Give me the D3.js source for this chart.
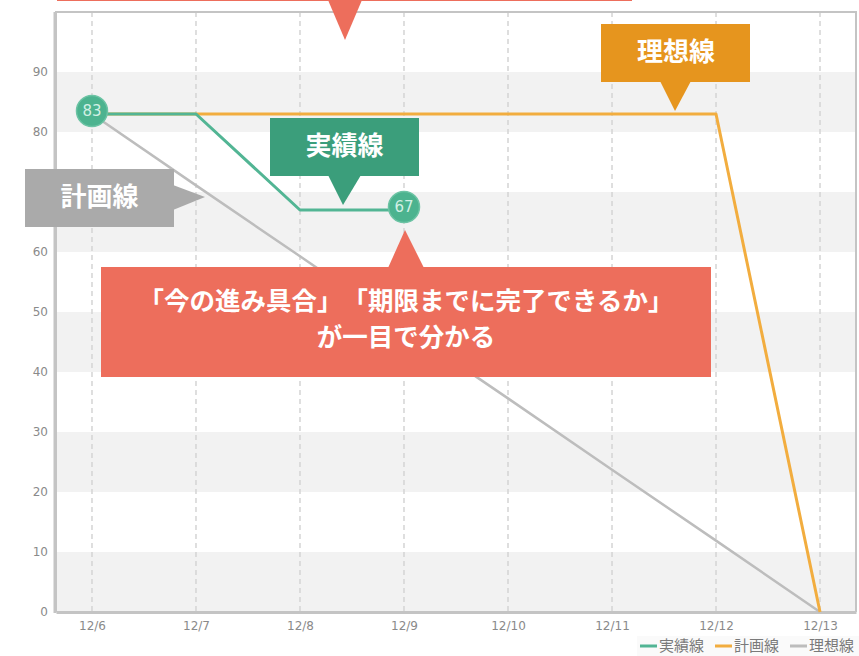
<!DOCTYPE html>
<html><head><meta charset="utf-8">
<script src="https://cdn.jsdelivr.net/npm/d3@7/dist/d3.min.js"></script>
<style>body{margin:0;background:#fff}svg{display:block}text{text-spacing-trim:space-all}</style>
</head><body>
<svg id="c" width="859" height="656"></svg>
<script>
// ---- data ----
const dates = ["12/6","12/7","12/8","12/9","12/10","12/11","12/12","12/13"];
const actual = [83,83,67,67,null,null,null,null];      // 実績線
const plan   = [83,83,83,83,83,83,83,0];               // 計画線
const ideal  = [83,71.1,59.3,47.4,35.6,23.7,11.9,0];   // 理想線
const yTicks = [0,10,20,30,40,50,60,70,80,90];
const seriesNames = ["実績線","計画線","理想線"];
const calloutTexts = {
  ideal: "理想線", actual: "実績線", plan: "計画線",
  main: ["「今の進み具合」「期限までに完了できるか」","が一目で分かる"]
};

// ---- layout ----
const svg = d3.select("#c");
const L = 56, R = 856, T = 12, B = 612;
const x = d3.scalePoint().domain(dates).range([L, R]).padding(0.346);
const y = d3.scaleLinear().domain([0,100]).range([B, T]);
const C = {teal:"#52b594", tealDark:"#3b9e7b", orange:"#f2ad3f", orangeDark:"#e6951e",
           gray:"#bdbdbd", grayBox:"#aaaaaa", red:"#ed6e5c"};
const cjk = "'Noto Sans CJK JP','Noto Sans',sans-serif";

// bands
const bands = d3.range(0,100,20);
svg.append("g").selectAll("rect").data(bands).join("rect")
  .attr("x", L).attr("width", R-L)
  .attr("y", d => y(d+10)).attr("height", d => y(d)-y(d+10))
  .attr("fill", "#f2f2f2");

// vertical dashed grid
svg.append("g").selectAll("line").data(dates).join("line")
  .attr("x1", d => x(d)).attr("x2", d => x(d)).attr("y1", T).attr("y2", B)
  .attr("stroke", "#d4d4d4").attr("stroke-width", 1.5).attr("stroke-dasharray", "5,4");

// frame
svg.append("path").attr("d", `M${L},${B}V${T}H${R}V${B}`).attr("fill","none")
  .attr("stroke","#c4c4c4").attr("stroke-width",2);
svg.append("line").attr("x1",L-1).attr("x2",L-1).attr("y1",T).attr("y2",B+1)
  .attr("stroke","#c4c4c4").attr("stroke-width",3);

// axes
const yAxis = svg.append("g").attr("transform",`translate(${L-8},0)`)
  .call(d3.axisLeft(y).tickValues(yTicks).tickSize(0).tickPadding(0));
yAxis.select(".domain").remove();
yAxis.selectAll("text").attr("fill","#8a8a8a").style("font-family","'DejaVu Sans',sans-serif").style("font-size","12px");
const xAxis = svg.append("g").attr("transform",`translate(0,${B})`)
  .call(d3.axisBottom(x).tickSize(0).tickPadding(9));
xAxis.select(".domain").attr("stroke","#c4c4c4").attr("stroke-width",3);
xAxis.selectAll("text").attr("fill","#8a8a8a").style("font-family","'DejaVu Sans',sans-serif").style("font-size","12px");

// lines
const line = d3.line().defined(d => d.v != null).x(d => x(d.k)).y(d => y(d.v));
const toPts = arr => arr.map((v,i)=>({k:dates[i], v}));
svg.append("path").datum(toPts(ideal)).attr("d", line).attr("fill","none")
  .attr("stroke", C.gray).attr("stroke-width", 2.5);
svg.append("path").datum(toPts(plan)).attr("d", line).attr("fill","none")
  .attr("stroke", C.orange).attr("stroke-width", 3).attr("stroke-linejoin","round");
svg.append("path").datum(toPts(actual)).attr("d", line).attr("fill","none")
  .attr("stroke", C.teal).attr("stroke-width", 3).attr("stroke-linejoin","round");

// markers at first and last actual values
const actPts = toPts(actual).filter(d => d.v != null);
const marks = [actPts[0], actPts[actPts.length-1]];
const mg = svg.append("g").selectAll("g").data(marks).join("g")
  .attr("transform", d => `translate(${x(d.k)},${y(d.v)-3})`);
mg.append("circle").attr("r", 15.5).attr("fill", "#4cb38f").attr("stroke","#6cc3a4").attr("stroke-width",1.5);
mg.append("text").text(d => d.v).attr("text-anchor","middle").attr("dy","0.36em")
  .attr("fill","#d2f0e5").style("font-family","'DejaVu Sans',sans-serif").style("font-size","15px");

// callouts
function box(x0,y0,w,h,fill){ svg.append("rect").attr("x",x0).attr("y",y0).attr("width",w).attr("height",h).attr("fill",fill); }
function tri(pts,fill){ svg.append("path").attr("d","M"+pts.map(p=>p.join(",")).join("L")+"Z").attr("fill",fill); }
function label(t,cx,cy,size){ svg.append("text").text(t).attr("x",cx).attr("y",cy).attr("text-anchor","middle")
  .attr("dy","0.36em").attr("fill","#fff").style("font-family",cjk).style("font-weight","bold").style("font-size",size+"px"); }

// top red (mostly off-canvas)
box(57,-60,575,61,C.red);
tri([[328,0],[362,0],[345,40]],C.red);

// 理想線 (orange) callout -> orange line
const oAx = 675, oAy = y(83) - 3;
box(601,24,149,58,C.orangeDark);
tri([[660,81],[691,81],[oAx,oAy]],C.orangeDark);
label(calloutTexts.ideal,676,52,26);

// 実績線 (teal) callout
const tAy = y(67) - 5;
box(270,118,149,58,C.tealDark);
tri([[328,175],[361,175],[343,tAy]],C.tealDark);
label(calloutTexts.actual,344.5,146,26);

// 計画線 (gray) callout
box(25,169,149,58,C.grayBox);
tri([[173,185],[173,210],[205,197]],C.grayBox);
label(calloutTexts.plan,99.5,197,26);

// main red callout
const mAx = x("12/9");
box(101,267,610,110,C.red);
tri([[388,268],[424,268],[mAx+1,230]],C.red);
label(calloutTexts.main[0],406,301,25.5);
label(calloutTexts.main[1],406,337,25.5);

// legend
const lg = svg.append("g");
lg.append("rect").attr("x",637).attr("y",636).attr("width",222).attr("height",20).attr("fill","#fafafa");
const lcol = [C.teal, C.orange, C.gray];
const items = lg.selectAll("g").data(seriesNames).join("g")
  .attr("transform",(d,i)=>`translate(${640+i*75},646)`);
items.append("line").attr("x1",0).attr("x2",17).attr("stroke",(d,i)=>lcol[i]).attr("stroke-width",3);
items.append("text").text(d=>d).attr("x",19).attr("dy","0.36em").attr("fill","#7a7a7a")
  .style("font-family",cjk).style("font-size","15px");
</script>
</body></html>
